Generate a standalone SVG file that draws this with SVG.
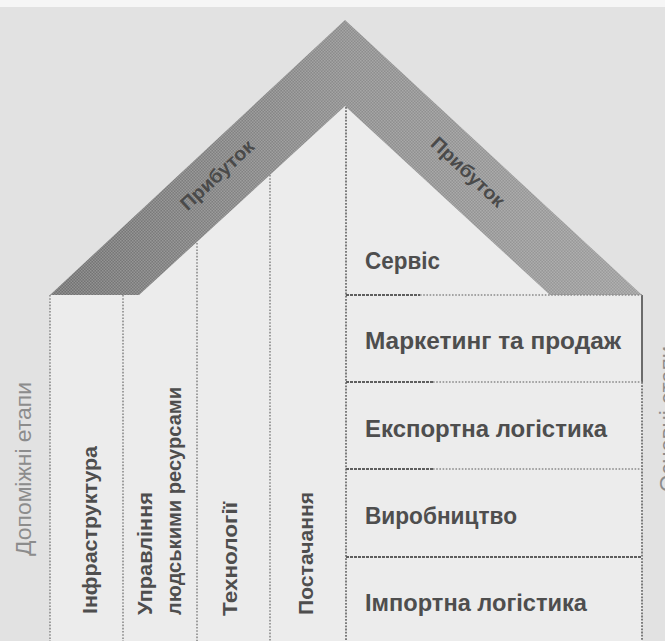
<svg xmlns="http://www.w3.org/2000/svg" width="665" height="641" viewBox="0 0 665 641">
  <defs>
    <linearGradient id="roofGrad" gradientUnits="userSpaceOnUse" x1="50" y1="0" x2="642" y2="0">
      <stop offset="0" stop-color="#707070"/>
      <stop offset="0.5" stop-color="#8c8c8c"/>
      <stop offset="1" stop-color="#9c9c9c"/>
    </linearGradient>
    <pattern id="halftone" width="3" height="3" patternUnits="userSpaceOnUse">
      <rect x="0" y="0" width="1.5" height="1.5" fill="#ffffff" opacity="0.22"/>
      <rect x="1.5" y="1.5" width="1.5" height="1.5" fill="#ffffff" opacity="0.22"/>
    </pattern>
    <style>
      .dot { stroke: #8a8a8a; stroke-width: 1.6; stroke-dasharray: 1.6 1.6; fill: none; }
      .dotdark { stroke: #707070; stroke-width: 1.8; stroke-dasharray: 1.8 1.4; fill: none; }
      .solid { stroke: #5e5e5e; stroke-width: 1.8; fill: none; }
      .prim { font-family: "Liberation Sans", Arial, sans-serif; font-weight: bold; font-size: 23px; fill: #4e4e4e; }
      .supp { font-family: "Liberation Sans", Arial, sans-serif; font-weight: bold; font-size: 21px; fill: #4e4e4e; }
      .side { font-family: "Liberation Sans", Arial, sans-serif; font-size: 22px; fill: #8c8c8c; }
      .roofText { font-family: "Liberation Sans", Arial, sans-serif; font-weight: bold; font-size: 19px; fill: #4a4a4a; }
    </style>
  </defs>

  <!-- page background -->
  <rect x="0" y="0" width="665" height="641" fill="#e2e2e2"/>
  <rect x="0" y="0" width="665" height="7" fill="#f6f6f6"/>

  <!-- house interior -->
  <g id="interior">
    <rect x="50" y="295" width="592" height="346" fill="#ececec"/>
    <polygon points="139,295 345,106 550,295" fill="#ececec"/>
  </g>

  <!-- roof -->
  <g id="roof">
    <polygon points="50,295 345,20 642,295 550,295 345,106 139,295" fill="url(#roofGrad)"/>
    <polygon points="50,295 345,20 642,295 550,295 345,106 139,295" fill="url(#halftone)"/>
    <text class="roofText" transform="translate(217,175) rotate(-43)" x="0" y="6.5" text-anchor="middle" textLength="93" lengthAdjust="spacingAndGlyphs">Прибуток</text>
    <text class="roofText" transform="translate(468,172) rotate(43)" x="0" y="6.5" text-anchor="middle" textLength="93" lengthAdjust="spacingAndGlyphs">Прибуток</text>
  </g>

  <!-- divider lines -->
  <g id="connectors">
    <line class="dot" x1="50" y1="295" x2="50" y2="641"/>
    <line class="dot" x1="123" y1="295" x2="123" y2="641"/>
    <line class="dot" x1="197" y1="243" x2="197" y2="641"/>
    <line class="dot" x1="270" y1="175" x2="270" y2="641"/>
    <line class="dotdark" x1="346" y1="107" x2="346" y2="641"/>
    <line class="solid" x1="642" y1="295" x2="642" y2="382"/>
    <line class="dotdark" x1="642" y1="382" x2="642" y2="641"/>

    <line class="solid" x1="346" y1="295" x2="420" y2="295" stroke-dasharray="3 1"/>
    <line class="dot" x1="420" y1="295" x2="642" y2="295"/>
    <line class="solid" x1="346" y1="382" x2="433" y2="382" stroke-dasharray="3 1"/>
    <line class="dot" x1="433" y1="382" x2="642" y2="382"/>
    <line class="solid" x1="346" y1="469" x2="433" y2="469" stroke-dasharray="3 1"/>
    <line class="dot" x1="433" y1="469" x2="642" y2="469"/>
    <line class="solid" x1="346" y1="557" x2="642" y2="557" stroke-dasharray="3 1"/>
  </g>

  <!-- side labels -->
  <g id="label-support">
    <text class="side" transform="translate(31,556) rotate(-90)" x="0" y="0" textLength="174" lengthAdjust="spacingAndGlyphs">Допоміжні етапи</text>
  </g>
  <g id="label-primary">
    <text class="side" transform="translate(675,492) rotate(-90)" x="0" y="0" textLength="146" lengthAdjust="spacingAndGlyphs">Основні етапи</text>
  </g>

  <!-- support activities -->
  <g id="infrastructure">
    <text class="supp" transform="translate(97,614) rotate(-90)" x="0" y="0" textLength="168" lengthAdjust="spacingAndGlyphs">Інфраструктура</text>
  </g>
  <g id="hr-management">
    <text class="supp" transform="translate(152,615) rotate(-90)" x="0" y="0" textLength="123" lengthAdjust="spacingAndGlyphs">Управління</text>
    <text class="supp" transform="translate(181,615) rotate(-90)" x="0" y="0" textLength="228" lengthAdjust="spacingAndGlyphs">людськими ресурсами</text>
  </g>
  <g id="technology">
    <text class="supp" transform="translate(237,616) rotate(-90)" x="0" y="0" textLength="114" lengthAdjust="spacingAndGlyphs">Технології</text>
  </g>
  <g id="procurement">
    <text class="supp" transform="translate(313,615) rotate(-90)" x="0" y="0" textLength="123" lengthAdjust="spacingAndGlyphs">Постачання</text>
  </g>

  <!-- primary activities -->
  <g id="service">
    <text class="prim" x="365" y="269" textLength="75" lengthAdjust="spacingAndGlyphs">Сервіс</text>
  </g>
  <g id="marketing">
    <text class="prim" x="365" y="349" textLength="256" lengthAdjust="spacingAndGlyphs">Маркетинг та продаж</text>
  </g>
  <g id="outbound">
    <text class="prim" x="365" y="437" textLength="242" lengthAdjust="spacingAndGlyphs">Експортна логістика</text>
  </g>
  <g id="operations">
    <text class="prim" x="365" y="524" textLength="152" lengthAdjust="spacingAndGlyphs">Виробництво</text>
  </g>
  <g id="inbound">
    <text class="prim" x="365" y="611" textLength="222" lengthAdjust="spacingAndGlyphs">Імпортна логістика</text>
  </g>
</svg>
